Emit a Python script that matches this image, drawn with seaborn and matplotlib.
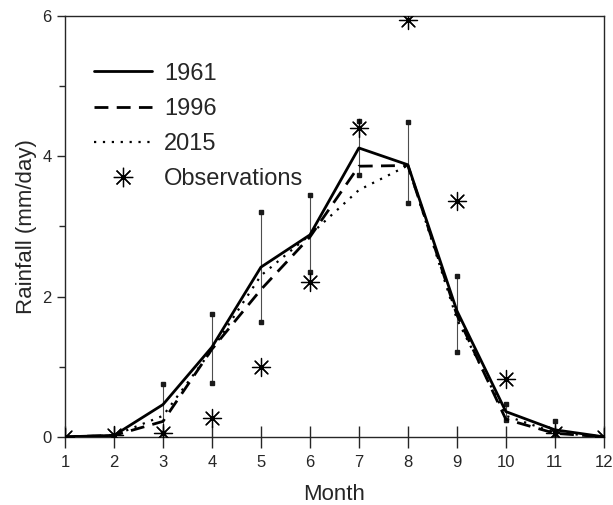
import numpy as np
import pandas as pd
import seaborn as sns
import matplotlib.pyplot as plt
from matplotlib.lines import Line2D

# Monthly rainfall (mm/day)
months = [1, 2, 3, 4, 5, 6, 7, 8, 9, 10, 11, 12]
rain_1961 = [0.0, 0.02, 0.46, 1.28, 2.42, 2.88, 4.12, 3.88, 1.8, 0.36, 0.1, 0.0]
rain_1996 = [0.0, 0.02, 0.22, 1.25, 2.1, 2.85, 3.86, 3.87, 1.74, 0.25, 0.05, 0.0]
rain_2015 = [0.0, 0.02, 0.3, 1.24, 2.3, 2.88, 3.52, 3.87, 1.68, 0.3, 0.06, 0.0]
obs = [0.0, 0.02, 0.05, 0.27, 1.0, 2.21, 4.4, 5.94, 3.36, 0.83, 0.06, 0.0]

# error bar ranges
err_months = [3, 4, 5, 6, 7, 8, 9, 10, 11]
err_low = [0.05, 0.77, 1.64, 2.35, 3.73, 3.33, 1.21, 0.24, 0.0]
err_high = [0.75, 1.75, 3.2, 3.45, 4.5, 4.49, 2.3, 0.47, 0.23]

sns.set_style("ticks")
plt.rcParams['font.family'] = ['Liberation Sans', 'DejaVu Sans']

fig = plt.figure(figsize=(6.13, 5.05), dpi=100)
ax = fig.add_axes([0.106, 0.135, 0.879, 0.833])

df = pd.DataFrame({"month": months, "1961": rain_1961, "1996": rain_1996, "2015": rain_2015, "obs": obs})

# error bars: thin line with small square ends
ax.vlines(err_months, err_low, err_high, color="0.3", lw=0.8, zorder=2)
ax.plot(err_months, err_low, ls="none", marker="s", ms=2.2, color="0.1", zorder=2)
ax.plot(err_months, err_high, ls="none", marker="s", ms=2.2, color="0.1", zorder=2)

sns.lineplot(data=df, x="month", y="1961", ax=ax, color="black", lw=2.0, zorder=3)
sns.lineplot(data=df, x="month", y="1996", ax=ax, color="black", lw=2.0, zorder=3)
ax.lines[-1].set_dashes([5, 3])
sns.lineplot(data=df, x="month", y="2015", ax=ax, color="black", lw=1.6, zorder=3)
ax.lines[-1].set_dashes([1, 3])
sns.scatterplot(data=df, x="month", y="obs", ax=ax, marker=(8, 2, 0), s=170,
                color="black", linewidth=0.9, zorder=4)

ax.set_xlim(1, 12)
ax.set_ylim(0, 6)
ax.set_xticks(months)
ax.set_yticks([0, 2, 4, 6])
ax.set_yticks([1, 3, 5], minor=True)
ax.tick_params(axis="x", direction="inout", length=16, width=1, labelsize=12, pad=5)
ax.tick_params(axis="y", which="major", direction="out", length=6, width=1, labelsize=12)
ax.tick_params(axis="y", which="minor", direction="out", length=4, width=1)
for s in ax.spines.values():
    s.set_linewidth(1.0)
    s.set_visible(True)

ax.set_xlabel("Month", fontsize=16, labelpad=10)
ax.set_ylabel("Rainfall (mm/day)", fontsize=16, labelpad=4)

handles = [
    Line2D([], [], color="black", lw=2.0),
    Line2D([], [], color="black", lw=2.0, dashes=[5, 3]),
    Line2D([], [], color="black", lw=1.6, dashes=[1, 3]),
    Line2D([], [], color="black", ls="none", marker=(8, 2, 0), ms=14, mew=0.9),
]
ax.legend(handles, ["1961", "1996", "2015", "Observations"], loc="upper left",
          bbox_to_anchor=(0.015, 0.94), frameon=False, fontsize=17,
          handlelength=2.45, handletextpad=0.5, labelspacing=0.56)

plt.savefig("out.png", dpi=100)
